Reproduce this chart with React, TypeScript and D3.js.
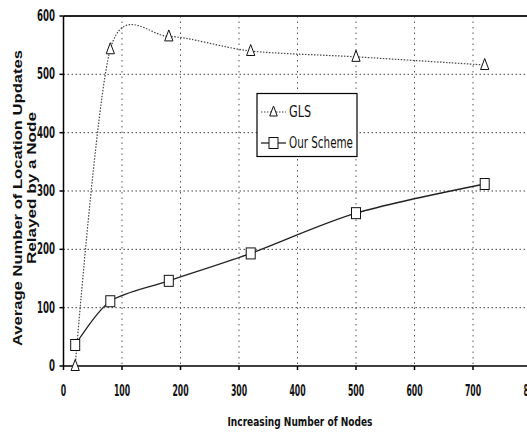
import React from "react";
import * as d3 from "d3";

const nodes = [20, 80, 180, 320, 500, 720];
const glsValues = [0, 543, 565, 540, 530, 516];
const ourValues = [36, 111, 146, 193, 262, 312];
const xTicks = [0, 100, 200, 300, 400, 500, 600, 700, 800];
const yTicks = [0, 100, 200, 300, 400, 500, 600];
const seriesNames = ["GLS", "Our Scheme"];
const xTitle = "Increasing Number of Nodes";
const yTitle1 = "Average Number of Location Updates";
const yTitle2 = "Relayed by a Node";

const W = 527;
const H = 437;

export default function App() {
  const x = d3.scaleLinear().domain([0, 800]).range([63.5, 531.5]);
  const y = d3.scaleLinear().domain([0, 600]).range([366, 16]);
  const line = d3
    .line<[number, number]>()
    .x((d) => x(d[0]))
    .y((d) => y(d[1]))
    .curve(d3.curveCardinal.tension(0.15));
  const glsPts: [number, number][] = nodes.map((n, i) => [n, glsValues[i]]);
  const ourPts: [number, number][] = nodes.map((n, i) => [n, ourValues[i]]);
  const narrow = "'Liberation Sans Narrow', 'Arial Narrow', 'DejaVu Sans Condensed', sans-serif";
  const tri = (cx: number, cy: number, s = 5.5) =>
    `M${cx},${cy - s - 1}L${cx + s * 0.75},${cy + s - 1}L${cx - s * 0.75},${cy + s - 1}Z`;

  return (
    <svg
      width={W}
      height={H}
      style={{ position: "absolute", left: 0, top: 0, background: "#fff" }}
    >
      {/* grid */}
      {yTicks
        .filter((t) => t > 0 && t < 600)
        .map((t) => (
          <line
            key={"gy" + t}
            x1={x(0)}
            x2={W}
            y1={y(t)}
            y2={y(t)}
            stroke="#444"
            strokeWidth={1}
            strokeDasharray="1.5,2.5"
          />
        ))}
      {xTicks
        .filter((t) => t > 0 && t < 800)
        .map((t) => (
          <line
            key={"gx" + t}
            x1={x(t)}
            x2={x(t)}
            y1={y(600)}
            y2={y(0)}
            stroke="#555"
            strokeWidth={1}
            strokeDasharray="1.5,4"
          />
        ))}
      {/* top border */}
      <line x1={x(0)} x2={W} y1={y(600)} y2={y(600)} stroke="#222" strokeWidth={2} />
      {/* axes */}
      <line x1={x(0)} x2={x(0)} y1={y(600)} y2={y(0)} stroke="#000" strokeWidth={1.5} />
      <line x1={x(0)} x2={W} y1={y(0)} y2={y(0)} stroke="#000" strokeWidth={1.5} />
      {yTicks.map((t) => (
        <g key={"yt" + t}>
          <line x1={x(0) - 4} x2={x(0)} y1={y(t)} y2={y(t)} stroke="#000" strokeWidth={1.5} />
          <text
            x={55}
            y={y(t) + 5}
            textAnchor="end"
            fontFamily={narrow}
            fontWeight="bold"
            fontSize={15}
            textLength={String(t).length * 6}
            lengthAdjust="spacingAndGlyphs"
            fill="#111"
          >
            {t}
          </text>
        </g>
      ))}
      {xTicks.map((t) => (
        <g key={"xt" + t}>
          <line x1={x(t)} x2={x(t)} y1={y(0)} y2={y(0) + 4} stroke="#000" strokeWidth={1.5} />
          <text
            x={x(t)}
            y={396}
            textAnchor="middle"
            fontFamily={narrow}
            fontWeight="bold"
            fontSize={15}
            textLength={String(t).length * 5.4}
            lengthAdjust="spacingAndGlyphs"
            fill="#111"
          >
            {t}
          </text>
        </g>
      ))}
      {/* series */}
      <path
        d={line(glsPts) || ""}
        fill="none"
        stroke="#444"
        strokeWidth={1.2}
        strokeDasharray="1.5,1.5"
      />
      <path d={line(ourPts) || ""} fill="none" stroke="#222" strokeWidth={1.3} />
      {glsPts.map((p, i) => (
        <path
          key={"gm" + i}
          d={tri(x(p[0]), y(p[1]))}
          fill="#fff"
          stroke="#111"
          strokeWidth={1}
        />
      ))}
      {ourPts.map((p, i) => (
        <rect
          key={"om" + i}
          x={x(p[0]) - 4.5}
          y={y(p[1]) - 5.5}
          width={9}
          height={11}
          fill="#fff"
          stroke="#111"
          strokeWidth={1}
        />
      ))}
      {/* legend */}
      <rect x={257} y={93.5} width={100} height={63} fill="#fff" stroke="#000" strokeWidth={1.2} />
      <line x1={261} x2={286} y1={112} y2={112} stroke="#444" strokeWidth={1.2} strokeDasharray="1.5,1.5" />
      <path d={tri(273.5, 112, 5)} fill="#fff" stroke="#111" strokeWidth={1} />
      <text
        x={289}
        y={117}
        fontFamily={narrow}
        fontSize={15}
        fill="#111"
        textLength={22}
        lengthAdjust="spacingAndGlyphs"
      >
        {seriesNames[0]}
      </text>
      <line x1={261} x2={286} y1={143} y2={143} stroke="#222" strokeWidth={1.3} />
      <rect x={269} y={137.5} width={9} height={11} fill="#fff" stroke="#111" strokeWidth={1} />
      <text
        x={289}
        y={148}
        fontFamily={narrow}
        fontSize={15}
        fill="#111"
        textLength={64}
        lengthAdjust="spacingAndGlyphs"
      >
        {seriesNames[1]}
      </text>
      {/* axis titles */}
      <text
        x={300}
        y={426}
        textAnchor="middle"
        fontFamily={narrow}
        fontWeight="bold"
        fontSize={13}
        textLength={145}
        lengthAdjust="spacingAndGlyphs"
        fill="#111"
      >
        {xTitle}
      </text>
      <text
        transform="translate(22,198) rotate(-90)"
        textAnchor="middle"
        fontFamily="'Liberation Sans', Arial, sans-serif"
        fontWeight="bold"
        fontSize={12}
        textLength={296}
        lengthAdjust="spacingAndGlyphs"
        fill="#111"
      >
        {yTitle1}
      </text>
      <text
        transform="translate(36,188) rotate(-90)"
        textAnchor="middle"
        fontFamily="'Liberation Sans', Arial, sans-serif"
        fontWeight="bold"
        fontSize={12}
        textLength={152}
        lengthAdjust="spacingAndGlyphs"
        fill="#111"
      >
        {yTitle2}
      </text>
    </svg>
  );
}
